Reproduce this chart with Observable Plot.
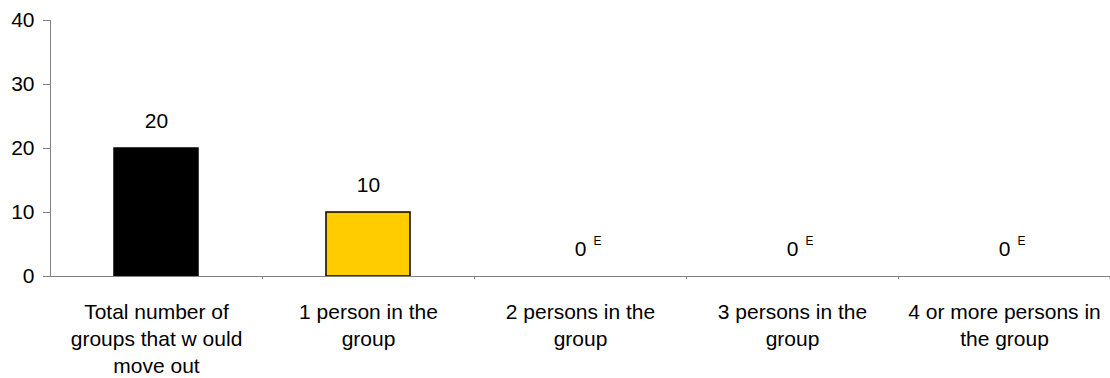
<!DOCTYPE html>
<html>
<head>
<meta charset="utf-8">
<script src="https://cdn.jsdelivr.net/npm/d3@7"></script>
<script src="https://cdn.jsdelivr.net/npm/@observablehq/plot@0.6"></script>
<style>
  html, body { margin: 0; padding: 0; background: #fff; }
  svg { display: block; }
</style>
</head>
<body>
<div id="chart"></div>
<script>
const categories = [
  "Total number of\ngroups that w ould\nmove out",
  "1 person in the\ngroup",
  "2 persons in the\ngroup",
  "3 persons in the\ngroup",
  "4 or more persons in\nthe group"
];
const values = [20, 10, 0, 0, 0];
const valueLabels = ["20", "10", "0", "0", "0"];
const flags = ["", "", "E", "E", "E"];
const colors = ["#000000", "#FFCC00", "#999999", "#999999", "#999999"];
const yTicks = [0, 10, 20, 30, 40];

const data = categories.map((c, i) => ({cat: c, value: values[i], label: valueLabels[i], flag: flags[i], color: colors[i]}));

const W = 1110, H = 378, mL = 50, mR = 0;
const half = (W - mL - mR) / categories.length / 2;
const font = "Liberation Sans, Arial, sans-serif";

const chart = Plot.plot({
  width: W,
  height: H,
  marginLeft: mL,
  marginRight: mR,
  marginTop: 20,
  marginBottom: 102,
  style: {fontFamily: font, fontSize: "21px", color: "black", background: "white"},
  x: {domain: categories, padding: 0, axis: null},
  y: {domain: [0, 40], axis: null},
  marks: [
    Plot.barY(data.filter(d => d.value > 0), {x: "cat", y: "value", fill: "color", stroke: "black", strokeWidth: 1.5, insetLeft: 64, insetRight: 64}),
    // axis lines
    Plot.ruleY([0], {stroke: "#808080"}),
    Plot.ruleX([categories[0]], {x: d => d, y1: 0, y2: 40, dx: -half, stroke: "#808080"}),
    // y ticks
    Plot.axisY({ticks: yTicks, tickSize: 7, tickPadding: 9, fontSize: 21, stroke: "#808080", fill: "black", label: null}),
    // x boundary ticks
    Plot.ruleX(categories.slice(1), {x: d => d, y1: 0, y2: -0.5, dx: -half, stroke: "#808080"}),
    Plot.ruleX([categories[categories.length - 1]], {x: d => d, y1: 0, y2: -0.5, dx: half - 0.5, stroke: "#808080"}),
    // x labels
    Plot.axisX({tickSize: 0, tickPadding: 24, fontSize: 21, lineHeight: 1.27, label: null, fill: "black"}),
    // value labels
    Plot.text(data, {x: "cat", y: "value", text: "label", dy: -27, fontSize: 21, lineAnchor: "middle", fill: "black"}),
    Plot.text(data.filter(d => d.flag), {x: "cat", y: "value", text: "flag", dx: 17, dy: -35, fontSize: 12, lineAnchor: "middle", fill: "black"})
  ]
});
document.getElementById("chart").appendChild(chart);
</script>
</body>
</html>
